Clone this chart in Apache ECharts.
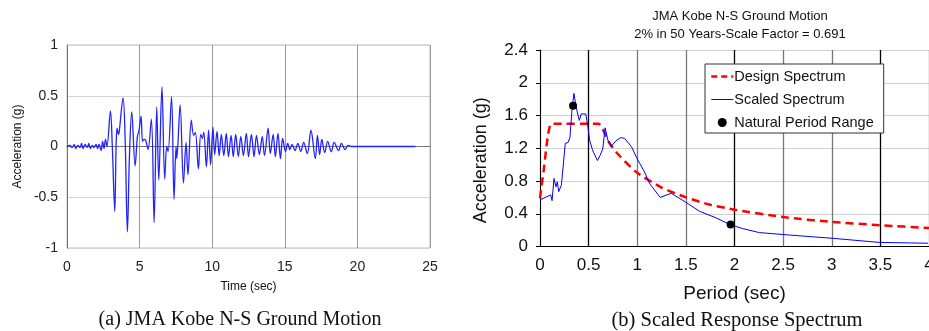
<!DOCTYPE html>
<html>
<head>
<meta charset="utf-8">
<script src="https://cdn.jsdelivr.net/npm/echarts@6/dist/echarts.min.js"></script>
<style>html,body{margin:0;padding:0;background:#fff}#c{width:929px;height:331px}</style>
</head>
<body>
<div id="c"></div>
<script>
// ---- (a) ground motion time history ----
const timeSec = [0,0.2,0.35,0.5,0.6,0.75,0.9,1.0,1.1,1.25,1.4,1.5,1.6,1.75,1.85,2.0,2.1,2.2,2.35,2.45,2.55,2.65,2.75,
 2.99,3.12,3.29,3.38,3.45,3.55,3.6,3.86,4.0,4.16,4.3,4.46,4.69,4.85,4.95,5.1,5.2,5.3,5.42,5.58,5.81,6.0,6.18,6.32,6.54,6.73,6.87,6.96,
 7.2,7.37,7.51,7.56,7.79,8.02,8.2,8.33,8.56,8.72,8.84,9.05,9.21,9.32,9.42,9.6,9.75,9.89,10.05,10.17,10.33,10.48,10.63,10.8,10.97,
 11.12,11.3,11.45,11.62,11.8,11.97,12.15,12.35,12.5,12.7,12.88,13.05,13.25,13.45,13.6,13.85,14.0,14.2,14.35,14.53,14.7,14.85,
 15.05,15.2,15.35,15.5,15.7,15.9,16.1,16.3,16.55,16.8,17.1,17.25,17.4,17.55,17.75,17.95,18.2,18.4,18.7,18.9,19.15,19.35,19.6,24];
const accelG = [0,0.01,-0.01,0.02,-0.02,0.01,-0.01,0.03,-0.02,0.02,-0.01,0.03,-0.02,0.01,-0.01,0.02,-0.02,0.02,-0.04,0.05,-0.02,0.07,0.0,
 0.35,0.0,-0.64,0.0,0.18,0.12,0.15,0.48,0.1,-0.84,-0.1,0.34,-0.19,0.1,0.15,0.3,0.05,0.07,0.06,-0.03,0.27,-0.75,0.39,-0.33,0.59,-0.32,0.0,-0.05,
 0.49,-0.52,0.0,-0.12,0.41,-0.36,0.04,-0.28,0.26,0.11,0.14,-0.22,0.12,0.08,0.14,-0.2,0.16,-0.18,0.19,-0.08,0.15,-0.09,0.12,-0.09,0.13,
 -0.1,0.11,-0.1,0.12,-0.1,0.1,-0.09,0.13,-0.1,0.12,-0.1,0.11,-0.08,0.1,-0.09,0.18,-0.07,0.12,-0.1,0.13,-0.12,0.08,
 -0.05,0.03,-0.03,0.02,-0.04,0.03,-0.05,0.04,-0.07,0.16,-0.12,0.11,-0.08,0.07,-0.06,0.05,-0.05,0.04,-0.04,0.03,-0.03,0.01,0,0];

// ---- (b) response spectrum ----
const designPeriod = [0,0.04,0.08,0.12,0.6,0.7,0.8,1.0,1.25,1.5,1.75,2.0,2.5,3.0,3.5,4.0];
const designAccel  = [0.59,0.95,1.34,1.5,1.5,1.29,1.13,0.9,0.72,0.6,0.51,0.45,0.36,0.3,0.26,0.225];
const scaledPeriod = [0,0.11,0.124,0.144,0.164,0.178,0.192,0.22,0.24,0.26,0.288,0.308,0.329,0.349,0.37,0.39,0.404,0.425,0.445,0.47,0.493,
 0.51,0.54,0.59,0.617,0.645,0.67,0.698,0.73,0.78,0.83,0.87,0.94,1.0,1.075,1.126,1.236,1.35,1.5,1.64,1.81,1.95,2.08,2.255,2.565,3.01,3.49,3.99];
const scaledAccel  = [0.57,0.63,0.56,0.83,0.73,0.79,0.67,0.75,0.76,1.26,1.27,1.33,1.67,1.87,1.71,1.69,1.54,1.62,1.64,1.62,1.46,
 1.3,1.18,1.05,1.11,1.19,1.45,1.3,1.22,1.29,1.33,1.32,1.22,1.07,0.91,0.77,0.6,0.65,0.54,0.43,0.35,0.27,0.22,0.17,0.14,0.10,0.05,0.04];
const naturalPeriod = [0.34,1.96];
const naturalAccel  = [1.72,0.27];

const zip = (a,b) => a.map((v,i)=>[v,b[i]]);
const chart = echarts.init(document.getElementById('c'), null, {renderer:'canvas'});
const sans = 'Liberation Sans, Arial, Helvetica, sans-serif';
const serif = 'Liberation Serif, Times New Roman, serif';
chart.setOption({
  animation:false,
  backgroundColor:'#fff',
  title:[
    {text:'JMA Kobe N-S Ground Motion\n2% in 50 Years-Scale Factor = 0.691', left:735, top:2, textAlign:'center',
     textStyle:{fontFamily:sans,fontSize:13,fontWeight:'normal',color:'#111',lineHeight:18}},
    {text:'(a) JMA Kobe N-S Ground Motion', left:235, top:305, textAlign:'center',
     textStyle:{fontFamily:serif,fontSize:20,fontWeight:'normal',color:'#111'}},
    {text:'(b) Scaled Response Spectrum', left:732, top:305, textAlign:'center',
     textStyle:{fontFamily:serif,fontSize:20.5,fontWeight:'normal',color:'#111'}}
  ],
  legend:{
    data:[
      {name:'Design Spectrum', itemStyle:{opacity:0}, lineStyle:{type:[6,4],width:2.5,color:'#ff0000'}},
      {name:'Scaled Spectrum', itemStyle:{opacity:0}, lineStyle:{width:1,color:'#0000ff'}},
      {name:'Natural Period Range', icon:'circle', itemStyle:{color:'#000'}}
    ],
    orient:'vertical', left:705, top:64, itemWidth:22, itemHeight:9, itemGap:8,
    padding:[5,10,3,5], borderColor:'#333', borderWidth:1, backgroundColor:'#fff',
    textStyle:{fontFamily:sans,fontSize:14.5,color:'#111',padding:[0,0,0,-4]}
  },
  grid:[
    {left:67, top:45, width:363, height:203, show:true, borderColor:'#bbb', borderWidth:1, outerBoundsMode:'none'},
    {left:540, top:50, width:389, height:196.5, outerBoundsMode:'none'}
  ],
  xAxis:[
    {gridIndex:0, type:'value', min:0, max:25, interval:5, name:'Time (sec)', nameLocation:'middle', nameGap:33,
     nameTextStyle:{fontFamily:sans,fontSize:12,color:'#111'},
     axisLine:{lineStyle:{color:'#777'}}, axisTick:{show:false},
     axisLabel:{fontFamily:sans,fontSize:14,color:'#222',margin:12},
     splitLine:{show:true,lineStyle:{color:'#999',width:1}}},
    {gridIndex:1, type:'value', min:0, max:4, interval:0.5, name:'Period (sec)', nameLocation:'middle', nameGap:38,
     nameTextStyle:{fontFamily:sans,fontSize:19,color:'#111'},
     axisLine:{lineStyle:{color:'#000'}}, axisTick:{show:false},
     axisLabel:{fontFamily:sans,fontSize:17,color:'#111',margin:10},
     splitLine:{show:true,lineStyle:{color:['#777','#000','#777'],width:1.3}}}
  ],
  yAxis:[
    {gridIndex:0, type:'value', min:-1, max:1, interval:0.5, name:'Acceleration (g)', nameLocation:'middle', nameGap:43,
     nameTextStyle:{fontFamily:sans,fontSize:12,color:'#111'},
     axisLine:{show:true,lineStyle:{color:'#777'}}, axisTick:{show:false},
     axisLabel:{fontFamily:sans,fontSize:14,color:'#222',margin:9},
     splitLine:{show:true,lineStyle:{color:'#d4d4d4',width:1}}},
    {gridIndex:1, type:'value', min:0, max:2.4, interval:0.4, name:'Acceleration (g)', nameLocation:'middle', nameGap:50,
     nameTextStyle:{fontFamily:sans,fontSize:18,color:'#111',padding:[0,24,0,0]},
     axisLine:{show:true,lineStyle:{color:'#000'}}, axisTick:{show:true,length:4,lineStyle:{color:'#000'}},
     axisLabel:{fontFamily:sans,fontSize:17,color:'#111',margin:12},
     splitLine:{show:true,lineStyle:{color:'#d0d0d0',width:1}}}
  ],
  series:[
    {type:'line', xAxisIndex:0, yAxisIndex:0, data:zip(timeSec,accelG), symbol:'none', smooth:0.35,
     lineStyle:{color:'#2222ff',width:1.3}},
    {name:'Design Spectrum', type:'line', xAxisIndex:1, yAxisIndex:1, data:zip(designPeriod,designAccel), symbol:'none', smooth:0.2,
     itemStyle:{color:'#ff0000'}, lineStyle:{color:'#ff0000',width:2.5,type:[8,5]}},
    {name:'Scaled Spectrum', type:'line', xAxisIndex:1, yAxisIndex:1, data:zip(scaledPeriod,scaledAccel), symbol:'none',
     itemStyle:{color:'#0000ff'}, lineStyle:{color:'#0000ff',width:1}},
    {name:'Natural Period Range', type:'scatter', xAxisIndex:1, yAxisIndex:1, data:zip(naturalPeriod,naturalAccel), symbolSize:8,
     z:10, itemStyle:{color:'#000000',opacity:1}}
  ]
});
</script>
</body>
</html>
